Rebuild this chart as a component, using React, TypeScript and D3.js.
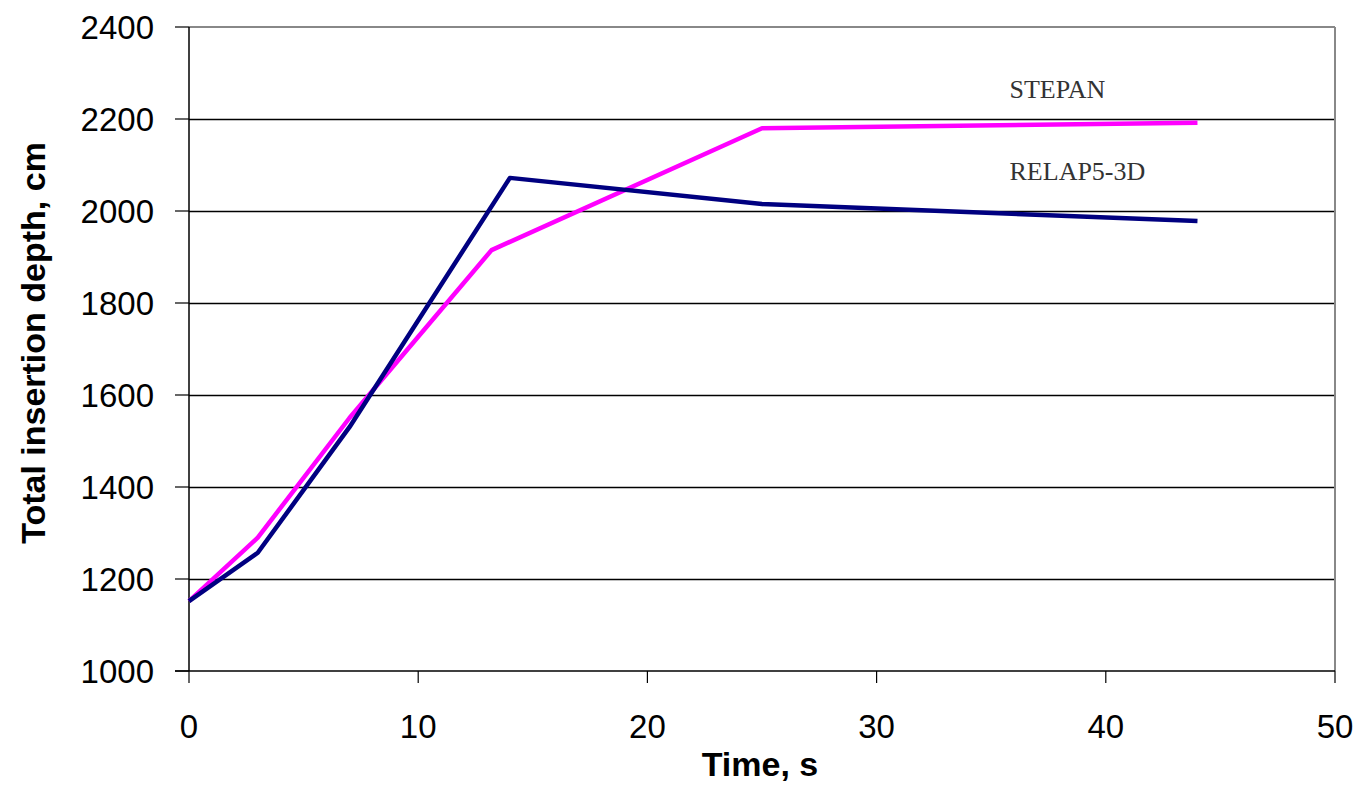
import React from "react";
import * as d3 from "d3";

// Time (s) and total insertion depth (cm) for the two codes
const relapTime = [0, 3, 7, 14, 25, 44];
const relapDepth = [1152, 1257, 1530, 2072, 2015, 1978];
const stepanTime = [0, 3, 7, 13.2, 25, 44];
const stepanDepth = [1152, 1290, 1550, 1915, 2180, 2192];

const xTicks = [0, 10, 20, 30, 40, 50];
const yTicks = [1000, 1200, 1400, 1600, 1800, 2000, 2200, 2400];

// Curve labels: text, anchor time, anchor depth
const curveLabels: [string, number, number][] = [
  ["STEPAN", 35.8, 2245],
  ["RELAP5-3D", 35.8, 2068],
];

const W = 1361;
const H = 786;
const left = 189;
const right = 1335;
const top = 27;
const bottom = 671;

export default function App() {
  const x = d3.scaleLinear().domain([0, 50]).range([left, right]);
  const y = d3.scaleLinear().domain([1000, 2400]).range([bottom, top]);

  const line = d3
    .line<[number, number]>()
    .x((d) => x(d[0]))
    .y((d) => y(d[1]));

  const relap = relapTime.map((t, i) => [t, relapDepth[i]] as [number, number]);
  const stepan = stepanTime.map((t, i) => [t, stepanDepth[i]] as [number, number]);

  const sans = "Arial, 'Liberation Sans', Helvetica, sans-serif";
  const serif = "'Times New Roman', 'Liberation Serif', serif";

  return (
    <svg
      width={W}
      height={H}
      style={{ position: "absolute", left: 0, top: 0, background: "#fff" }}
    >
      {/* horizontal gridlines */}
      {yTicks.slice(1, -1).map((v) => (
        <line
          key={v}
          x1={left}
          x2={right}
          y1={Math.round(y(v)) + 0.5}
          y2={Math.round(y(v)) + 0.5}
          stroke="#000"
          strokeWidth={1.3}
        />
      ))}
      {/* plot frame: grey top and right */}
      <line x1={left} x2={right} y1={top} y2={top} stroke="#888" strokeWidth={2} />
      <line x1={right} x2={right} y1={top} y2={bottom} stroke="#888" strokeWidth={2} />

      {/* y axis */}
      <line x1={left} x2={left} y1={top} y2={bottom} stroke="#000" strokeWidth={1.5} />
      {yTicks.map((v) => (
        <g key={v}>
          <line x1={left - 14} x2={left} y1={y(v)} y2={y(v)} stroke="#000" strokeWidth={1.2} />
          <text
            x={154}
            y={y(v)}
            dy="0.36em"
            textAnchor="end"
            fontFamily={sans}
            fontSize={33}
            fill="#000"
          >
            {v}
          </text>
        </g>
      ))}

      {/* x axis */}
      <line x1={left - 14} x2={right} y1={bottom} y2={bottom} stroke="#000" strokeWidth={1.5} />
      {xTicks.map((v) => (
        <g key={v}>
          <line x1={x(v)} x2={x(v)} y1={bottom} y2={bottom + 12} stroke="#000" strokeWidth={1.2} />
          <text
            x={x(v)}
            y={738}
            textAnchor="middle"
            fontFamily={sans}
            fontSize={33}
            fill="#000"
          >
            {v}
          </text>
        </g>
      ))}

      {/* axis titles */}
      <text
        x={(left + right) / 2 - 2}
        y={776}
        textAnchor="middle"
        fontFamily={sans}
        fontWeight="bold"
        fontSize={34}
        fill="#000"
      >
        Time, s
      </text>
      <text
        transform={`translate(45, ${343}) rotate(-90)`}
        textAnchor="middle"
        fontFamily={sans}
        fontWeight="bold"
        fontSize={34}
        fill="#000"
      >
        Total insertion depth, cm
      </text>

      {/* series */}
      <path d={line(stepan) ?? ""} fill="none" stroke="#FF00FF" strokeWidth={4.5} strokeLinejoin="round" />
      <path d={line(relap) ?? ""} fill="none" stroke="#000080" strokeWidth={4.5} strokeLinejoin="round" />

      {/* curve labels */}
      {curveLabels.map(([t, tx, ty]) => (
        <text key={t} x={x(tx)} y={y(ty)} fontFamily={serif} fontSize={26} fill="#333">
          {t}
        </text>
      ))}
    </svg>
  );
}
